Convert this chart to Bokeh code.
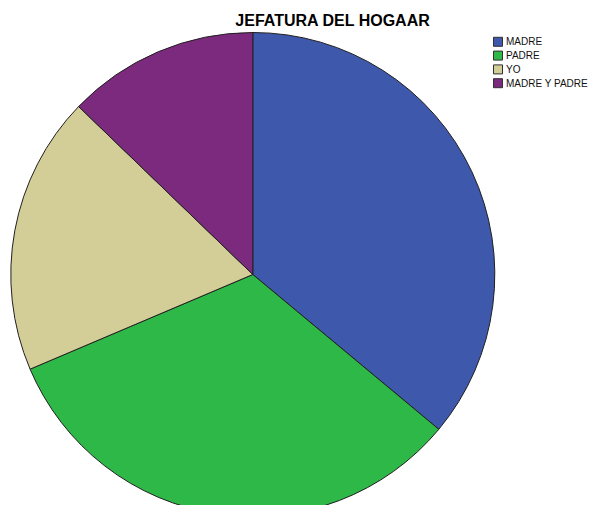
import numpy as np
from bokeh.plotting import figure
from bokeh.models import Range1d, ColumnDataSource
from bokeh.core.properties import value
from bokeh.embed import file_html
from bokeh.resources import INLINE

title = "JEFATURA DEL HOGAAR"
categories = ["MADRE", "PADRE", "YO", "MADRE Y PADRE"]
counts = [31, 28, 16, 11]
colors = ["#3E58AC", "#2EB848", "#D3CE97", "#7B2A7D"]

W, H = 592, 505
p = figure(width=W, height=H, output_backend="svg", toolbar_location=None,
           x_range=Range1d(0, W), y_range=Range1d(0, H), min_border=0,
           x_axis_type=None, y_axis_type=None)
p.grid.visible = False
p.outline_line_color = None
p.background_fill_color = "white"
p.border_fill_color = "white"

# picture pixel -> data
def dx(sx):
    return sx
def dy(sy):
    return H - sy

cx, cy, r = dx(252.3), dy(274), 242
vals = np.array(counts, dtype=float)
frac = vals / vals.sum()
cum = np.concatenate([[0], np.cumsum(frac)])
start = np.pi / 2 - 2 * np.pi * cum[:-1]
end = np.pi / 2 - 2 * np.pi * cum[1:]
src = ColumnDataSource(dict(x=[cx] * len(counts), y=[cy] * len(counts),
                            start=start, end=end, color=colors, cat=categories))
p.wedge(x="x", y="y", radius=r, start_angle="start", end_angle="end",
        direction="clock", fill_color="color", line_color="#202020",
        line_width=1, source=src)

# legend
n = len(categories)
row_y = [dy(41.3 + 13.8 * i) for i in range(n)]
lsrc = ColumnDataSource(dict(x=[dx(497.5)] * n, y=row_y, tx=[dx(505.5)] * n,
                             color=colors, cat=categories))
p.rect(x="x", y="y", width=9, height=9, fill_color="color",
       line_color="#303030", line_width=1, source=lsrc)
p.text(x="tx", y="y", text="cat", text_font=value("Liberation Sans"),
       text_font_size="10px", text_baseline="middle", text_align="left",
       text_color="#111111", source=lsrc)

p.text(x=[dx(332.5)], y=[dy(19.5)], text=[title], text_font=value("Liberation Sans"),
       text_font_size="16px", text_font_style="bold", text_baseline="middle",
       text_align="center", text_color="#000000")

open("out.html", "w").write(file_html(p, INLINE))
